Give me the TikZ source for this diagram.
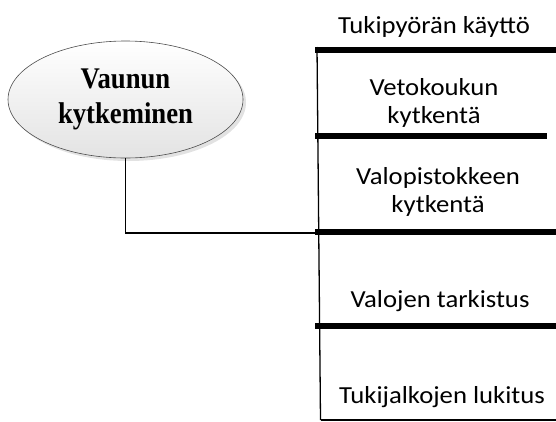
\documentclass[tikz,border=0pt]{standalone}
\usepackage{fontspec}
\setmainfont{Liberation Serif}[FakeStretch=0.89]
\newfontfamily\taskfont{Carlito}[FakeStretch=1.09]
\usetikzlibrary{shapes.geometric,shadows,positioning}

\tikzset{
  topic/.style={ellipse, draw=gray!60!black, line width=0.6pt,
    top color=white, bottom color=gray!22,
    drop shadow={shadow xshift=3pt, shadow yshift=-3pt, fill=gray!45, opacity=0.5},
    minimum width=235pt, minimum height=117pt, inner sep=0pt, align=center,
    font=\fontsize{30}{35}\selectfont\bfseries},
  task/.style={font=\taskfont\fontsize{24.5}{28}\selectfont, align=center,
    anchor=base, inner sep=0pt},
  bar/.style={line width=6.5pt},
  link/.style={line width=1.3pt}
}

\begin{document}
\begin{tikzpicture}[x=1pt,y=-1pt]
\useasboundingbox (0,0) rectangle (556,421);

% main topic
\node (vaunun) [topic] at (125.5,99.5) {Vaunun\\kytkeminen};

% spine and the bars of the steps
\coordinate (spinetop) at (317,47);
\coordinate (spinebot) at (320.5,420);
\coordinate (hub) at (318.8,233);
\draw[link] (spinetop) -- (spinebot);
\draw[link] (spinebot) -- (556,420);
\foreach \y/\xe in {50/556, 136/547, 232/556, 326/556}
  \draw[bar] (315,\y) -- (\xe,\y);

\draw[link] (vaunun.south) |- (hub);

% steps (base = last line)
\node (tuki)  [task] at (434,33)  {Tukipyörän käyttö};
\node (veto)  [task] at (434,123) {Vetokoukun\\kytkentä};
\node (valo)  [task] at (438,212) {Valopistokkeen\\kytkentä};
\node (tark)  [task] at (440,307) {Valojen tarkistus};
\node (jalka) [task] at (442,403) {Tukijalkojen lukitus};
\end{tikzpicture}
\end{document}
